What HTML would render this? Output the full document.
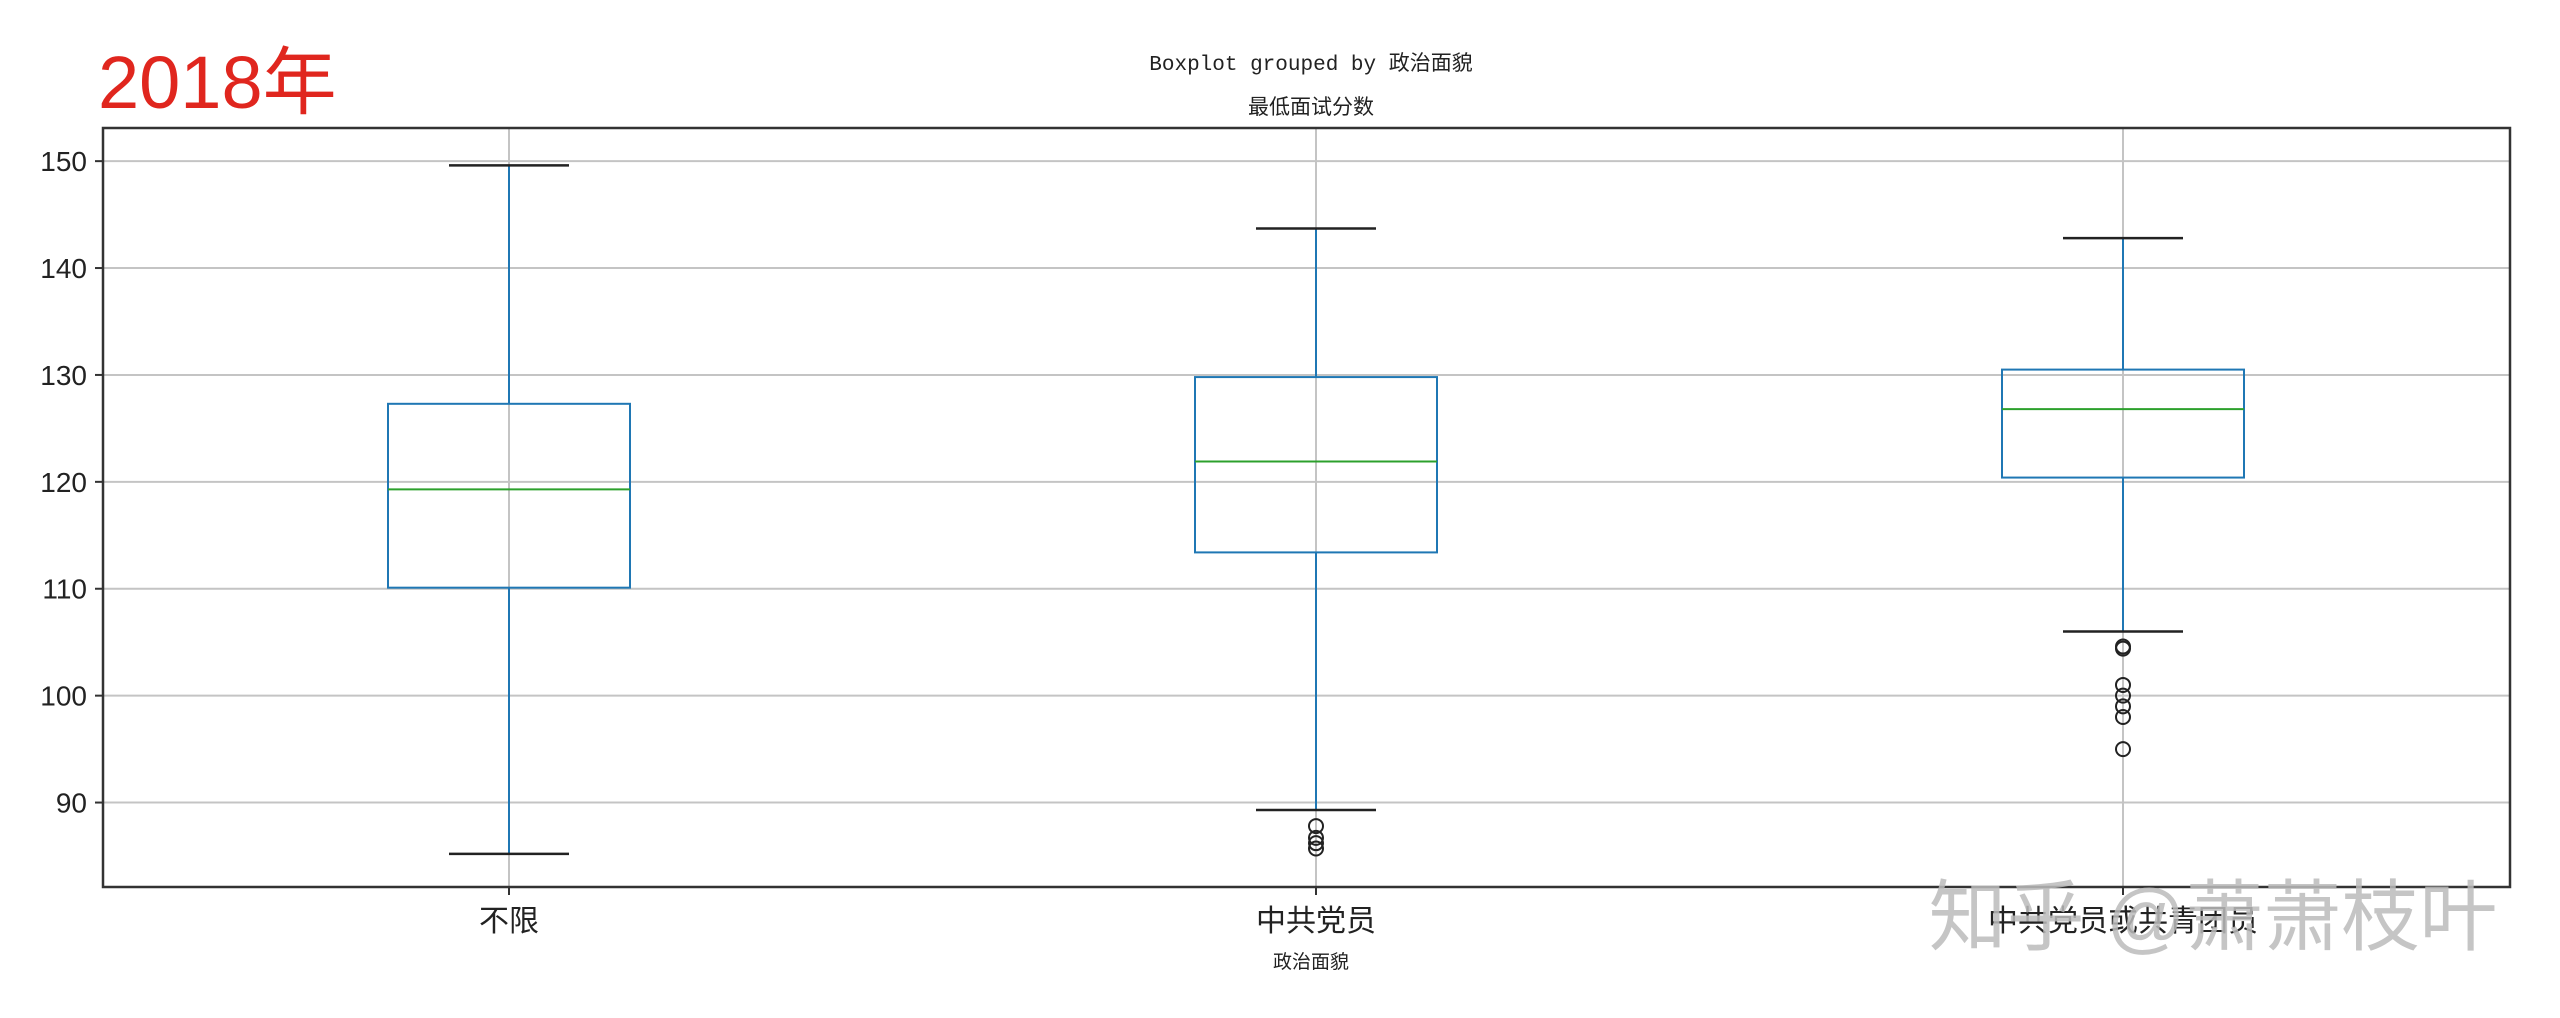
<!DOCTYPE html>
<html><head><meta charset="utf-8"><style>
html,body{margin:0;padding:0;background:#fff;}
svg{display:block;}
</style></head><body>
<svg id="chart" width="2560" height="1018" viewBox="0 0 2560 1018" xmlns="http://www.w3.org/2000/svg">
<rect width="2560" height="1018" fill="#fff"/>
<text x="98" y="108" font-family="Liberation Sans, 'Noto Sans CJK SC', sans-serif" font-size="74" fill="#e0261e">2018年</text>
<text x="1311" y="70" text-anchor="middle" font-family="Liberation Mono, 'Noto Sans CJK SC', monospace" font-size="21" fill="#222">Boxplot grouped by 政治面貌</text>
<text x="1311" y="114" text-anchor="middle" font-family="Liberation Sans, 'Noto Sans CJK SC', sans-serif" font-size="21" fill="#222">最低面试分数</text>
<g id="grid"></g>
<g id="boxes"></g>
<rect x="103" y="128" width="2407" height="759" fill="none" stroke="#333" stroke-width="2.5"/>
<g id="axes"></g>
<text x="1311" y="968" text-anchor="middle" font-family="Liberation Sans, 'Noto Sans CJK SC', sans-serif" font-size="19" fill="#222">政治面貌</text>
<text x="2213" y="944" text-anchor="middle" font-family="Liberation Sans, 'Noto Sans CJK SC', sans-serif" font-size="78" fill="#bbb" opacity="0.85">知乎 @萧萧枝叶</text>
</svg>
<script>
const categories = ["不限", "中共党员", "中共党员或共青团员"];
const whiskerHigh = [149.6, 143.7, 142.8];
const q3Values = [127.3, 129.8, 130.5];
const medians = [119.3, 121.9, 126.8];
const q1Values = [110.1, 113.4, 120.4];
const whiskerLow = [85.2, 89.3, 106.0];
const outliers0 = [];
const outliers1 = [87.8, 86.7, 86.2, 85.7];
const outliers2 = [104.6, 104.4, 101.0, 100.0, 99.0, 98.0, 95.0];
const yTicks = [90, 100, 110, 120, 130, 140, 150];

const NS = "http://www.w3.org/2000/svg";
const L = 103, R = 2510, T = 128, B = 887;
const yMin = 82.1, yMax = 153.1;
function yScale(v){ return B - (v - yMin) / (yMax - yMin) * (B - T); }
function xScale(i){ return 509 + i * 807; }
function mk(tag, attrs, parent){
  const e = document.createElementNS(NS, tag);
  for (const k in attrs) e.setAttribute(k, attrs[k]);
  parent.appendChild(e);
  return e;
}
const grid = document.getElementById('grid');
const boxes = document.getElementById('boxes');
const axes = document.getElementById('axes');
yTicks.forEach(function(t){
  const y = yScale(t);
  const g = mk('line', {x1: L, x2: R, y1: y, y2: y, stroke: '#c4c4c4', 'stroke-width': 2}, grid);
  
  
  const tk = mk('line', {x1: L - 8, x2: L, y1: y, y2: y, stroke: '#333', 'stroke-width': 2}, axes);
  
  
  const lb = mk('text', {x: L - 16, y: y + 10, 'text-anchor': 'end', 'font-family': 'Liberation Sans, sans-serif', 'font-size': 28, fill: '#222'}, axes);
  lb.textContent = t;
  
  
});
const allOut = [outliers0, outliers1, outliers2];
categories.forEach(function(c, i){
  const x = xScale(i);
  const g = mk('line', {x1: x, x2: x, y1: T, y2: B, stroke: '#c4c4c4', 'stroke-width': 2}, grid);
  
  
  const bw = 121, cw = 60;
  const grp = mk('g', {}, boxes);
  
  
  const w1 = mk('line', {x1: x, x2: x, y1: yScale(whiskerHigh[i]), y2: yScale(q3Values[i]), stroke: '#1f77b4', 'stroke-width': 2}, grp);
  
  
  const w2 = mk('line', {x1: x, x2: x, y1: yScale(q1Values[i]), y2: yScale(whiskerLow[i]), stroke: '#1f77b4', 'stroke-width': 2}, grp);
  
  
  const c1 = mk('line', {x1: x - cw, x2: x + cw, y1: yScale(whiskerHigh[i]), y2: yScale(whiskerHigh[i]), stroke: '#222', 'stroke-width': 2.5}, grp);
  
  
  const c2 = mk('line', {x1: x - cw, x2: x + cw, y1: yScale(whiskerLow[i]), y2: yScale(whiskerLow[i]), stroke: '#222', 'stroke-width': 2.5}, grp);
  
  
  const bx = mk('rect', {x: x - bw, y: yScale(q3Values[i]), width: 2 * bw, height: yScale(q1Values[i]) - yScale(q3Values[i]), fill: 'none', stroke: '#1f77b4', 'stroke-width': 2}, grp);
  
  
  const md = mk('line', {x1: x - bw, x2: x + bw, y1: yScale(medians[i]), y2: yScale(medians[i]), stroke: '#2ca02c', 'stroke-width': 2}, grp);
  
  
  allOut[i].forEach(function(v){
    const o = mk('circle', {cx: x, cy: yScale(v), r: 7, fill: 'none', stroke: '#222', 'stroke-width': 2}, grp);
    
    
  });
  const tk = mk('line', {x1: x, x2: x, y1: B, y2: B + 8, stroke: '#333', 'stroke-width': 2}, axes);
  
  
  const lb = mk('text', {x: x, y: B + 44, 'text-anchor': 'middle', 'font-family': "Liberation Sans, 'Noto Sans CJK SC', sans-serif", 'font-size': 30, fill: '#222'}, axes);
  lb.textContent = c;
  
  
});
</script>
</body></html>
